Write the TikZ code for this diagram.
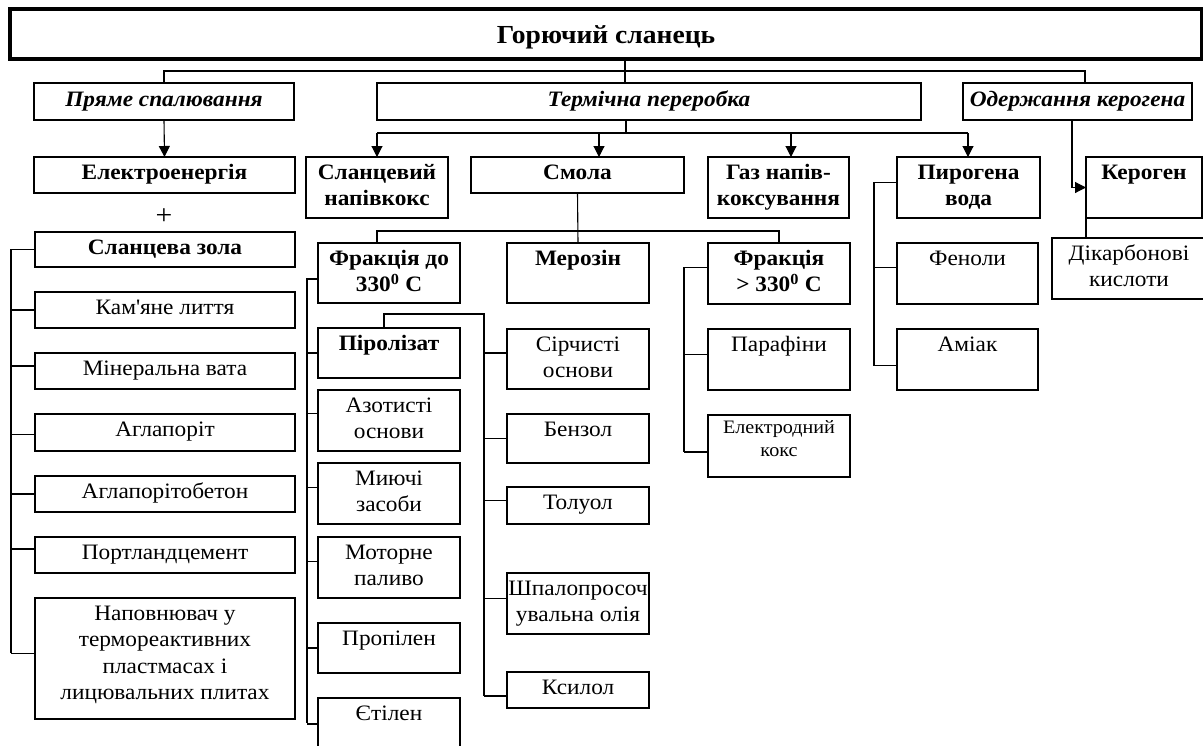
\documentclass[tikz,border=0pt]{standalone}
\usepackage{fontspec}
\setmainfont{Liberation Serif}[FakeStretch=1.06]
\usetikzlibrary{arrows.meta}
\newlength\firstH
\newcommand\fRg{\fontsize{22}{26.5}\selectfont\setlength\firstH{22pt}}
\newcommand\fBd{\fontsize{22}{26.5}\selectfont\bfseries\setlength\firstH{22pt}}
\newcommand\fBi{\fontsize{22}{26.5}\selectfont\bfseries\itshape\setlength\firstH{23pt}}
\newcommand\fSm{\fontsize{19}{23}\selectfont\setlength\firstH{18pt}}
\tikzset{
  tbox/.style={draw, line width=1.2pt, inner sep=0pt, outer sep=0pt, rectangle},
  bbox/.style={draw, line width=2.6pt, inner sep=0pt, outer sep=0pt, rectangle},
  topbox/.style={draw, line width=3.4pt, inner sep=0pt, outer sep=0pt, rectangle},
  conn/.style={draw, line width=1.1pt},
  arr/.style={conn, -{Triangle[width=11pt,length=11pt]}},
}
% style, name, x, y, w, h, font, text
\newcommand\bx[8]{%
  \node[#1, minimum width=#5pt, minimum height=#6pt] (#2) at ({#3+#5/2},{#4+#6/2}) {};
  \node[inner sep=0pt, anchor=north] (#2-t) at (#2.north)
    {\parbox[t]{#5pt}{\centering #7\rule{0pt}{\firstH}#8}};}
\begin{document}
\begin{tikzpicture}[x=1pt,y=-1pt]
\useasboundingbox (0,0) rectangle (1203,745);
\fill[white] (0,0) rectangle (1203,745);
\clip (0,0) rectangle (1203,745);

% title
\node[topbox, minimum width=1192pt, minimum height=50pt] (top) at (606,34) {};
\node[anchor=base, inner sep=0pt] (title) at (606,43) {\fontsize{26}{30}\selectfont\bfseries Горючий сланець};

% level 1
\bx{bbox}{pryame}{34}{83}{260}{37}{\fBi}{Пряме спалювання}
\bx{bbox}{termichna}{377}{83}{544}{37}{\fBi}{Термічна переробка}
\bx{bbox}{oderzh}{963}{83}{229}{37}{\fBi}{Одержання керогена}

% level 2
\bx{bbox}{elektro}{34}{157}{261}{36}{\fBd}{Електроенергія}
\bx{bbox}{slanc}{306}{157}{142}{61}{\fBd}{Сланцевий\\напівкокс}
\bx{bbox}{smola}{471}{157}{213}{36}{\fBd}{Смола}
\bx{bbox}{gaz}{708}{157}{141}{61}{\fBd}{Газ напів-\\коксування}
\bx{bbox}{pirog}{897}{157}{143}{61}{\fBd}{Пирогена\\вода}
\bx{bbox}{kerogen}{1086}{157}{116}{61}{\fBd}{Кероген}

\node[inner sep=0pt] (plus) at (164,217) {\fontsize{28}{30}\selectfont +};

% left column
\bx{bbox}{zola}{35}{232}{260}{35}{\fBd}{Сланцева зола}
\bx{tbox}{kam}{35}{292}{260}{36}{\fRg}{Кам\textquotesingle яне лиття}
\bx{tbox}{miner}{35}{353}{260}{36}{\fRg}{Мінеральна вата}
\bx{tbox}{aglo}{35}{414}{260}{37}{\fRg}{Аглапоріт}
\bx{tbox}{aglob}{35}{476}{260}{36}{\fRg}{Аглапорітобетон}
\bx{tbox}{portl}{35}{537}{260}{36}{\fRg}{Портландцемент}
\bx{tbox}{napov}{35}{598}{260}{121}{\fRg}{Наповнювач у\\термореактивних\\пластмасах і\\лицювальних плитах}

% smola products
\bx{bbox}{frak1}{318}{243}{142}{60}{\fBd}{Фракція до\\330\textsuperscript{0} C}
\bx{bbox}{merozin}{507}{243}{142}{60}{\fBd}{Мерозін}
\bx{bbox}{frak2}{708}{243}{142}{61}{\fBd}{Фракція\\> 330\textsuperscript{0} C}

\bx{bbox}{pirol}{318}{328}{142}{50}{\fBd}{Піролізат}
\bx{tbox}{azot}{318}{390}{142}{61}{\fRg}{Азотисті\\основи}
\bx{tbox}{miyuchi}{318}{463}{142}{61}{\fRg}{Миючі\\засоби}
\bx{tbox}{motor}{318}{537}{142}{61}{\fRg}{Моторне\\паливо}
\bx{tbox}{propil}{318}{623}{142}{50}{\fRg}{Пропілен}
\bx{tbox}{etil}{318}{698}{142}{52}{\fRg}{Єтілен}

\bx{tbox}{sirch}{507}{329}{142}{60}{\fRg}{Сірчисті\\основи}
\bx{tbox}{benzol}{507}{414}{142}{49}{\fRg}{Бензол}
\bx{tbox}{toluol}{507}{487}{142}{37}{\fRg}{Толуол}
\bx{tbox}{shpal}{507}{573}{142}{61}{\fRg}{Шпалопросоч\\увальна олія}
\bx{tbox}{ksilol}{507}{672}{142}{36}{\fRg}{Ксилол}

\bx{tbox}{parafin}{708}{329}{142}{61}{\fRg}{Парафіни}
\bx{tbox}{elektrod}{708}{415}{142}{62}{\fSm}{Електродний\\кокс}

\bx{tbox}{fenol}{897}{243}{141}{61}{\fRg}{Феноли}
\bx{tbox}{amiak}{897}{329}{141}{61}{\fRg}{Аміак}
\bx{tbox}{dikarb}{1052}{238}{154}{61}{\fRg}{Дікарбонові\\кислоти}

% ---- connectors ----
\coordinate (tp) at (625,71);
\coordinate (kr) at (1085,71);
\draw[conn] (tp |- top.south) -- (tp);
\draw[conn] (pryame.north) |- (kr) -- (kr |- oderzh.north);
\draw[conn] (tp) -- (tp |- termichna.north);
\draw[arr] (pryame.south) -- (elektro.north);

\coordinate (tb) at (626,133);
\coordinate (tbL) at (377,133);
\coordinate (tbR) at (968,133);
\coordinate (aS) at (599,133);
\coordinate (aG) at (791,133);
\draw[conn] (tb |- termichna.south) -- (tb);
\draw[conn] (tbL) -- (tbR);
\draw[arr] (tbL) -- (tbL |- slanc.north);
\draw[arr] (aS) -- (aS |- smola.north);
\draw[arr] (aG) -- (aG |- gaz.north);
\draw[arr] (tbR) -- (tbR |- pirog.north);

% kerogen
\coordinate (K1) at (1072,0);
\draw[arr] (K1 |- oderzh.south) |- (kerogen.west);
\draw[conn] (kerogen.south west) -- (kerogen.south west |- dikarb.north);

% smola branches
\coordinate (sbL) at (377,231);
\coordinate (sbR) at (779,231);
\draw[conn] (smola.south) -- (merozin.north);
\draw[conn] (sbL |- frak1.north) -- (sbL) -- (sbR) -- (frak2.north);

% slanceva zola bus
\coordinate (Zb) at (11,653);
\draw[conn] (zola.west) -| (Zb);
\draw[conn] (kam.west) -- ++(-24,0);
\draw[conn] ([yshift=5pt]miner.west) -- ++(-24,0);
\draw[conn] ([yshift=-2pt]aglo.west) -- ++(-24,0);
\draw[conn] (aglob.west) -- ++(-24,0);
\draw[conn] ([yshift=6pt]portl.west) -- ++(-24,0);
\draw[conn] ([yshift=5pt]napov.west) -- ++(-24,0);

% fraktsiya do 330 bus
\coordinate (Fb) at (307,723);
\draw[conn] ([yshift=-6pt]frak1.west) -| (Fb);
\draw[conn] (pirol.west) -- ++(-11,0);
\draw[conn] ([yshift=7pt]azot.west) -- ++(-11,0);
\draw[conn] ([yshift=6pt]miyuchi.west) -- ++(-11,0);
\draw[conn] ([yshift=6pt]motor.west) -- ++(-11,0);
\draw[conn] (propil.west) -- ++(-11,0);
\draw[conn] (etil.west) -- ++(-11,0);

% pirolizat bus
\coordinate (Pt) at (484,314);
\coordinate (Pb) at (484,696);
\draw[conn] ([xshift=-5pt]pirol.north) |- (Pt) -- (Pb);
\draw[conn] ([yshift=6pt]sirch.west) -- ++(-23,0);
\draw[conn] (benzol.west) -- ++(-23,0);
\draw[conn] ([yshift=5pt]toluol.west) -- ++(-23,0);
\draw[conn] ([yshift=5pt]shpal.west) -- ++(-23,0);
\draw[conn] ([yshift=-6pt]ksilol.west) -- ++(-23,0);

% fraktsiya > 330 bus
\coordinate (Gb) at (684,452);
\draw[conn] ([yshift=6pt]frak2.west) -| (Gb);
\draw[conn] ([yshift=5pt]parafin.west) -- ++(-24,0);
\draw[conn] ([yshift=-6pt]elektrod.west) -- ++(-24,0);

% pirogena voda bus
\coordinate (Hb) at (874,366);
\draw[conn] ([yshift=5pt]pirog.west) -| (Hb);
\draw[conn] ([yshift=6pt]fenol.west) -- ++(-23,0);
\draw[conn] ([yshift=-6pt]amiak.west) -- ++(-23,0);
\end{tikzpicture}
\end{document}
